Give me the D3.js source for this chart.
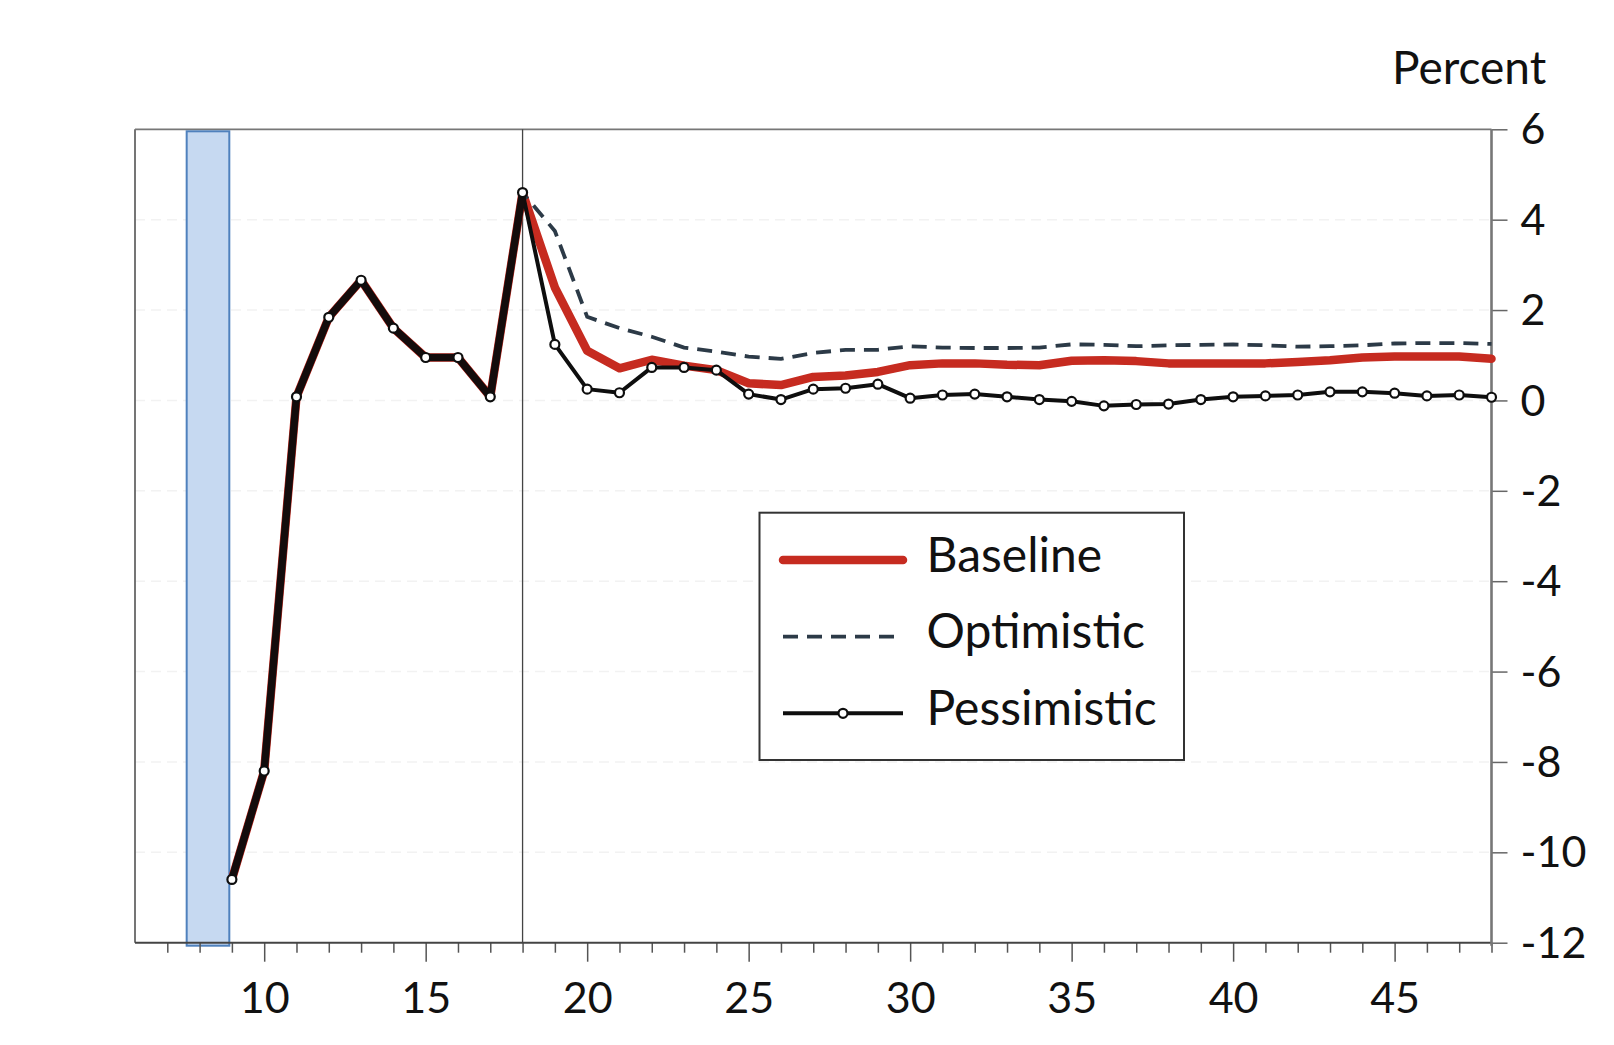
<!DOCTYPE html>
<html>
<head>
<meta charset="utf-8">
<script src="https://cdn.jsdelivr.net/npm/d3@7"></script>
<style>
  html, body { margin: 0; padding: 0; background: #fff; }
  svg { display: block; }
  text { font-family: Lato, "Open Sans", sans-serif; fill: #111; }
</style>
</head>
<body>
<svg id="chart" width="1614" height="1045"></svg>
<script>
// ---------------- data ----------------
const periods = [9,10,11,12,13,14,15,16,17,18,19,20,21,22,23,24,25,26,27,28,
                 29,30,31,32,33,34,35,36,37,38,39,40,41,42,43,44,45,46,47,48];

const baseline = [-10.6,-8.2,0.08,1.84,2.66,1.6,0.95,0.95,0.08,4.6,
                  2.5,1.1,0.71,0.9,0.77,0.67,0.38,0.34,0.52,0.55,
                  0.63,0.78,0.82,0.82,0.79,0.78,0.88,0.89,0.87,0.82,
                  0.82,0.82,0.82,0.85,0.89,0.95,0.97,0.97,0.97,0.92];

const optimistic = [-10.6,-8.2,0.08,1.84,2.66,1.6,0.95,0.95,0.08,4.6,
                    3.75,1.85,1.6,1.41,1.17,1.08,0.97,0.92,1.05,1.12,
                    1.12,1.2,1.17,1.16,1.16,1.17,1.24,1.23,1.2,1.22,
                    1.23,1.24,1.22,1.19,1.2,1.22,1.26,1.27,1.27,1.25];

const pessimistic = [-10.6,-8.2,0.08,1.84,2.66,1.6,0.95,0.95,0.08,4.6,
                     1.24,0.25,0.17,0.73,0.73,0.67,0.14,0.02,0.25,0.27,
                     0.36,0.05,0.12,0.14,0.08,0.02,-0.02,-0.12,-0.09,-0.08,
                     0.02,0.08,0.1,0.12,0.19,0.19,0.16,0.1,0.12,0.07];

const xDomain = [6, 48];
const yDomain = [-12, 6];
const xMajorTicks = [10, 15, 20, 25, 30, 35, 40, 45];
const xMinorTicks = [7,8,9,11,12,13,14,16,17,18,19,21,22,23,24,26,27,28,29,31,32,33,34,36,37,38,39,41,42,43,44,46,47,48];
const yTicks = [6, 4, 2, 0, -2, -4, -6, -8, -10, -12];
const shadedRange = [7.6, 8.92];
const forecastStart = 18;
const yLabel = "Percent";
const seriesNames = ["Baseline", "Optimistic", "Pessimistic"];

// ---------------- layout ----------------
const svg = d3.select("#chart");
const L = 135, R = 1491.5, T = 129.3, B = 942.7;
const x = d3.scaleLinear().domain(xDomain).range([L, R]);
const y = d3.scaleLinear().domain(yDomain).range([B, T]);

const red = "#c62b20", dashCol = "#2c3a47", blk = "#0e0e0e";

// faint gridlines
svg.append("g").selectAll("line")
  .data(yTicks.filter(d => d > -12 && d < 6))
  .join("line")
  .attr("x1", L).attr("x2", R)
  .attr("y1", d => y(d)).attr("y2", d => y(d))
  .attr("stroke", "#f2f2f2").attr("stroke-width", 1.5)
  .attr("stroke-dasharray", "10 6");

// frame (left & top)
svg.append("line").attr("x1", L).attr("x2", L).attr("y1", T).attr("y2", B)
  .attr("stroke", "#666").attr("stroke-width", 1.8);
svg.append("line").attr("x1", L).attr("x2", R).attr("y1", T).attr("y2", T)
  .attr("stroke", "#777").attr("stroke-width", 1.8);

// shaded band
svg.append("rect")
  .attr("x", x(shadedRange[0])).attr("y", T + 2)
  .attr("width", x(shadedRange[1]) - x(shadedRange[0]))
  .attr("height", (B + 3) - (T + 2))
  .attr("fill", "#c6d9f1").attr("stroke", "#4f81bd").attr("stroke-width", 2);

// forecast start vertical line
svg.append("line")
  .attr("x1", x(forecastStart)).attr("x2", x(forecastStart))
  .attr("y1", T).attr("y2", B)
  .attr("stroke", "#444").attr("stroke-width", 1.3);

// bottom axis: minor ticks
const gMinor = svg.append("g").attr("transform", `translate(0,${B})`)
  .call(d3.axisBottom(x).tickValues(xMinorTicks).tickSize(10).tickFormat(""));
gMinor.select(".domain").remove();
gMinor.selectAll(".tick line").attr("stroke", "#555").attr("stroke-width", 1.5);

// bottom axis: major ticks + labels
const gMajor = svg.append("g").attr("transform", `translate(0,${B})`)
  .call(d3.axisBottom(x).tickValues(xMajorTicks).tickSize(19).tickPadding(21).tickFormat(d => String(d)));
gMajor.select(".domain").remove();
gMajor.selectAll(".tick line").attr("stroke", "#555").attr("stroke-width", 1.5);
gMajor.selectAll(".tick text").attr("font-size", 43).attr("font-family", "Lato, 'Open Sans', sans-serif").attr("fill", "#111");

// bottom axis line
svg.append("line").attr("x1", L).attr("x2", R).attr("y1", B).attr("y2", B)
  .attr("stroke", "#444").attr("stroke-width", 2);

// right axis
const gY = svg.append("g").attr("transform", `translate(${R},0)`)
  .call(d3.axisRight(y).tickValues(yTicks).tickSize(16).tickPadding(13).tickFormat(d => String(d)));
gY.select(".domain").remove();
gY.selectAll(".tick line").attr("stroke", "#666").attr("stroke-width", 1.5);
gY.selectAll(".tick text").attr("font-size", 43).attr("dy", "0.34em")
  .attr("font-family", "Lato, 'Open Sans', sans-serif").attr("fill", "#111");
svg.append("line").attr("x1", R).attr("x2", R).attr("y1", T).attr("y2", B + 3)
  .attr("stroke", "#777").attr("stroke-width", 2.6);

// y label
svg.append("text").attr("x", 1392).attr("y", 84).attr("font-size", 46).text(yLabel);

// ---------------- series ----------------
const line = d3.line().x(d => x(d[0])).y(d => y(d[1]));
const pts = arr => periods.map((p, i) => [p, arr[i]]);

svg.append("path").datum(pts(baseline)).attr("d", line)
  .attr("fill", "none").attr("stroke", red).attr("stroke-width", 8.5)
  .attr("stroke-linejoin", "round").attr("stroke-linecap", "round");

svg.append("path").datum(pts(optimistic)).attr("d", line)
  .attr("fill", "none").attr("stroke", dashCol).attr("stroke-width", 3.8)
  .attr("stroke-dasharray", "15 9");

svg.append("path").datum(pts(pessimistic)).attr("d", line)
  .attr("fill", "none").attr("stroke", blk).attr("stroke-width", 4)
  .attr("stroke-linejoin", "round");

// overlapping history segment (all scenarios identical) appears as a heavy dark line
svg.append("path").datum(pts(pessimistic).filter(d => d[0] <= forecastStart)).attr("d", line)
  .attr("fill", "none").attr("stroke", "#140c0c").attr("stroke-width", 7.5)
  .attr("stroke-linejoin", "round");

svg.append("g").selectAll("circle").data(pts(pessimistic)).join("circle")
  .attr("cx", d => x(d[0])).attr("cy", d => y(d[1])).attr("r", 4.5)
  .attr("fill", "#fff").attr("stroke", blk).attr("stroke-width", 2.2);

// ---------------- legend ----------------
const lg = svg.append("g");
lg.append("rect").attr("x", 759.5).attr("y", 512.7).attr("width", 424.5).attr("height", 247.3)
  .attr("fill", "#fff").attr("stroke", "#333").attr("stroke-width", 2);
const rowsY = [560, 636.7, 713.3];
const lx1 = 783, lx2 = 903;
lg.append("line").attr("x1", lx1).attr("x2", lx2).attr("y1", rowsY[0]).attr("y2", rowsY[0])
  .attr("stroke", red).attr("stroke-width", 8.5).attr("stroke-linecap", "round");
lg.append("line").attr("x1", lx1).attr("x2", lx2).attr("y1", rowsY[1]).attr("y2", rowsY[1])
  .attr("stroke", dashCol).attr("stroke-width", 3.8).attr("stroke-dasharray", "15 9");
lg.append("line").attr("x1", lx1).attr("x2", lx2).attr("y1", rowsY[2]).attr("y2", rowsY[2])
  .attr("stroke", blk).attr("stroke-width", 4);
lg.append("circle").attr("cx", (lx1 + lx2) / 2).attr("cy", rowsY[2]).attr("r", 4.5)
  .attr("fill", "#fff").attr("stroke", blk).attr("stroke-width", 2.2);
lg.selectAll("text.lbl").data(seriesNames).join("text").attr("class", "lbl")
  .attr("x", 926.5).attr("y", (d, i) => rowsY[i] + 11.5)
  .attr("font-size", 48).text(d => d);
</script>
</body>
</html>
